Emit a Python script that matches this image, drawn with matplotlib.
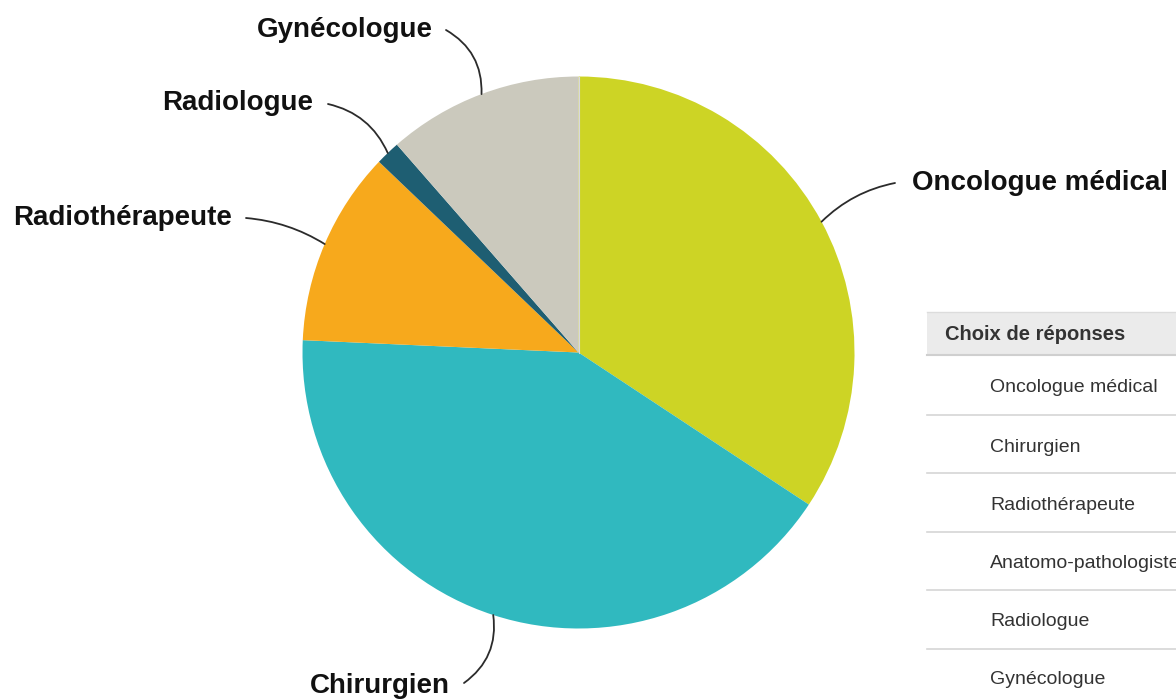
import numpy as np
import matplotlib
matplotlib.use("Agg")
import matplotlib.pyplot as plt
from matplotlib.patches import Rectangle

# ------------------------------------------------------------
# Donnees
# ------------------------------------------------------------
categories = [
    "Oncologue médical",
    "Chirurgien",
    "Radiothérapeute",
    "Anatomo-pathologiste",
    "Radiologue",
    "Gynécologue",
]
percentages = [34.29, 41.43, 11.43, 0.0, 1.43, 11.43]
colors = ["#cdd425", "#30b9bf", "#f7a91c", "#a0a0a0", "#1e5e72", "#cbc9bd"]

# ------------------------------------------------------------
# Figure (coordonnees en pixels, y vers le haut)
# ------------------------------------------------------------
W, H = 1176, 700
plt.rcParams["font.family"] = ["Liberation Sans", "DejaVu Sans"]

fig = plt.figure(figsize=(W / 100, H / 100), dpi=100)
ax = fig.add_axes([0, 0, 1, 1])

cx, cy, r = 578.5, H - 352.5, 276

wedges, _ = ax.pie(
    percentages,
    colors=colors,
    startangle=90,
    counterclock=False,
    center=(cx, cy),
    radius=r,
    wedgeprops=dict(linewidth=0),
)
# fin liseré clair entre Gynécologue et Oncologue
ax.plot([cx, cx], [cy, cy + r], color="#d8d8e0", lw=0.8)

ax.set_xlim(0, W)
ax.set_ylim(0, H)
ax.set_aspect("equal")
ax.axis("off")

# label: (texte x, texte y, alignement, debut trait x, debut trait y, courbure)
label_layout = {
    "Oncologue médical": (912, 183, "left", 895, 183, 0.15),
    "Chirurgien": (450, 686, "right", 464, 683, 0.3),
    "Radiothérapeute": (232, 218, "right", 246, 218, -0.12),
    "Radiologue": (313, 103, "right", 328, 104, -0.25),
    "Gynécologue": (433, 30, "right", 446, 30, -0.3),
}

for wedge, name, pct in zip(wedges, categories, percentages):
    if pct <= 0:
        continue
    tx, ty, ha, sx, sy, rad = label_layout[name]
    mid = np.deg2rad((wedge.theta1 + wedge.theta2) / 2)
    ex, ey = cx + r * np.cos(mid), cy + r * np.sin(mid)
    ax.text(tx, H - ty, name, ha=ha, va="center", fontsize=20,
            fontweight="bold", color="#111111")
    ax.annotate(
        "", xy=(ex, ey), xytext=(sx, H - sy),
        arrowprops=dict(arrowstyle="-", color="#2b2b2b", lw=1.3,
                        shrinkA=0, shrinkB=0,
                        connectionstyle=f"arc3,rad={rad}"),
    )

# ------------------------------------------------------------
# Tableau (coupe a droite, comme l'original)
# ------------------------------------------------------------
tab_x0 = 927
ax.add_patch(Rectangle((tab_x0, H - 355), W - tab_x0, 43,
                       facecolor="#ebebeb", edgecolor="none", zorder=1))
ax.plot([tab_x0, W], [H - 312, H - 312], color="#dcdcdc", lw=1)
ax.plot([tab_x0, W], [H - 355, H - 355], color="#cfcfcf", lw=1.5)
ax.text(945, H - 335, "Choix de réponses", ha="left", va="center",
        fontsize=14.5, fontweight="bold", color="#333333")

row_y = [388, 447, 505, 563, 621, 680]
sep_y = [415, 473, 532, 590, 649]
for name, y in zip(categories, row_y):
    ax.text(990, H - y, name, ha="left", va="center", fontsize=14,
            color="#333333")
for y in sep_y:
    ax.plot([tab_x0, W], [H - y, H - y], color="#d6d6d6", lw=1.2)

fig.savefig("out.png", dpi=100)
